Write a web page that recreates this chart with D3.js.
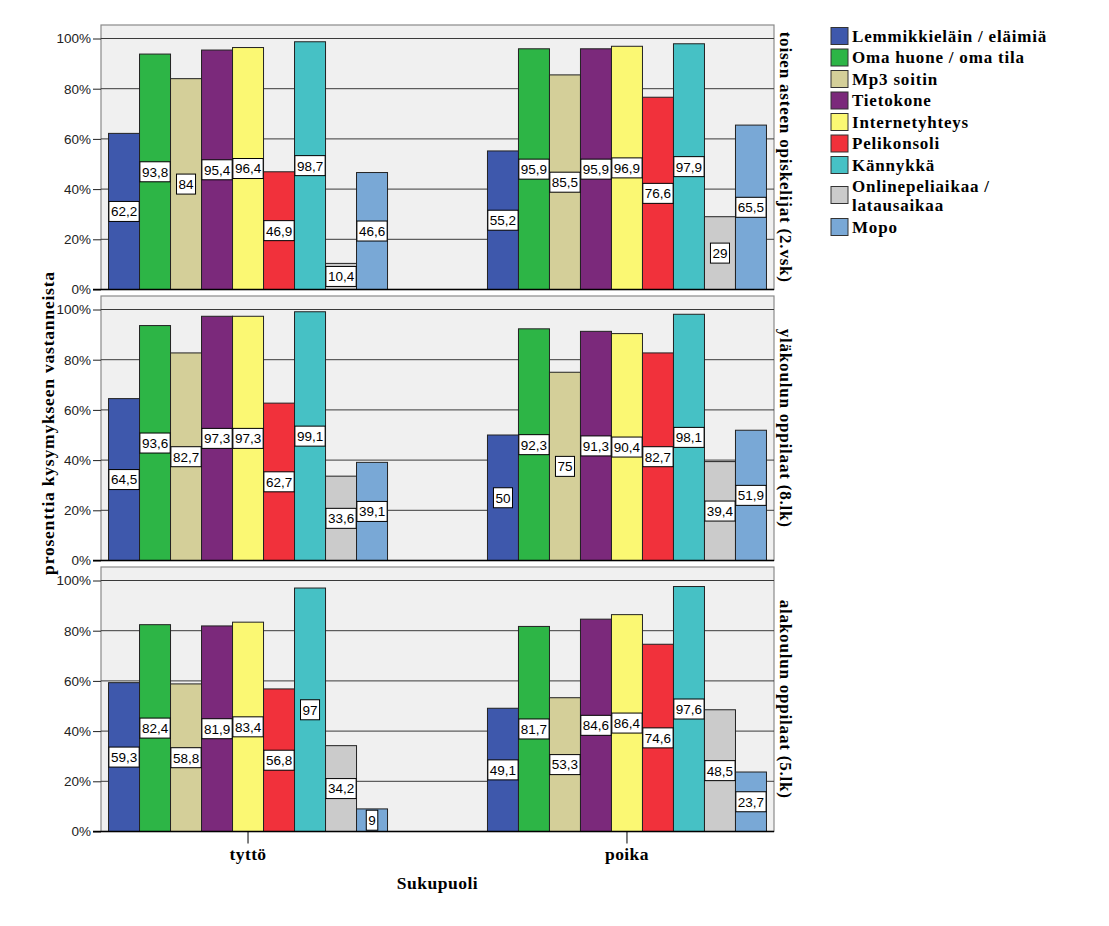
<!DOCTYPE html>
<html>
<head>
<meta charset="utf-8">
<script src="https://cdn.jsdelivr.net/npm/d3@7/dist/d3.min.js"></script>
<style>
  body { margin: 0; background: #fff; }
  .tick text { font-family: "Liberation Sans", Arial, sans-serif; }
</style>
</head>
<body>
<div id="chart"></div>
<script>
  'use strict';

  // categories
  var genders = ["tyttö", "poika"];
  var groups = ["toisen asteen opiskelijat (2.vsk)", "yläkoulun oppilaat (8.lk)", "alakoulun oppilaat (5.lk)"];
  var items = ["Lemmikkieläin / eläimiä", "Oma huone / oma tila", "Mp3 soitin", "Tietokone",
               "Internetyhteys", "Pelikonsoli", "Kännykkä", "Onlinepeliaikaa / latausaikaa", "Mopo"];
  var colors = ["#3e58ac", "#2db546", "#d4cf99", "#7b297b", "#fbf873", "#f1313b", "#46c1c5", "#cbcbcb", "#79a8d6"];
  var yTicks = [0, 20, 40, 60, 80, 100];

  // values per group, [tyttö, poika]
  var toinenAste = [[62.2, 93.8, 84, 95.4, 96.4, 46.9, 98.7, 10.4, 46.6],
                    [55.2, 95.9, 85.5, 95.9, 96.9, 76.6, 97.9, 29, 65.5]];
  var ylakoulu   = [[64.5, 93.6, 82.7, 97.3, 97.3, 62.7, 99.1, 33.6, 39.1],
                    [50, 92.3, 75, 91.3, 90.4, 82.7, 98.1, 39.4, 51.9]];
  var alakoulu   = [[59.3, 82.4, 58.8, 81.9, 83.4, 56.8, 97, 34.2, 9],
                    [49.1, 81.7, 53.3, 84.6, 86.4, 74.6, 97.6, 48.5, 23.7]];
  var panelValues = [toinenAste, ylakoulu, alakoulu];

  var W = 1109, H = 926;
  var left = 101, right = 774;
  var panelTop = 25, panelPitch = 271, yTop = 38.5, yBottom = 289.5;
  var serif = '"Liberation Serif", "Times New Roman", serif';
  var sans = '"Liberation Sans", Arial, sans-serif';

  var svg = d3.select("#chart").append("svg")
      .attr("width", W).attr("height", H);

  var x0 = d3.scalePoint().domain(genders).range([left, right]).padding(0.388);
  var x1 = d3.scaleBand().domain(items).range([-139.5, 139.5]);

  function fmt(v) { return String(v).replace(".", ","); }

  panelValues.forEach(function (vals, p) {
    var off = p * panelPitch;
    var y = d3.scaleLinear().domain([0, 100]).range([yBottom + off, yTop + off]);
    var g = svg.append("g");

    // panel background
    g.append("rect")
      .attr("x", left).attr("y", panelTop + off)
      .attr("width", right - left).attr("height", yBottom - panelTop)
      .attr("fill", "#f0f0f0").attr("stroke", "#8a8a8a").attr("stroke-width", 1.2);

    // gridlines
    g.selectAll("line.grid").data(yTicks.slice(1)).enter().append("line")
      .attr("x1", left).attr("x2", right)
      .attr("y1", function (d) { return y(d); }).attr("y2", function (d) { return y(d); })
      .attr("stroke", "#3a3a3a").attr("stroke-width", 1);

    // y axis
    var axis = d3.axisLeft(y).tickValues(yTicks).tickSize(8).tickPadding(2)
      .tickFormat(function (d) { return d + "%"; });
    var ag = g.append("g").attr("transform", "translate(" + left + ",0)").call(axis);
    ag.select(".domain").remove();
    ag.selectAll(".tick line").attr("stroke", "#222");
    ag.selectAll(".tick text").attr("font-size", 13.5).attr("fill", "#222");

    // bars
    genders.forEach(function (gd, gi) {
      var cx = x0(gd);
      var bg = g.append("g").attr("transform", "translate(" + cx + ",0)");
      bg.selectAll("rect").data(vals[gi]).enter().append("rect")
        .attr("x", function (d, i) { return x1(items[i]); })
        .attr("width", x1.bandwidth())
        .attr("y", function (d) { return y(d); })
        .attr("height", function (d) { return y(0) - y(d); })
        .attr("fill", function (d, i) { return colors[i]; })
        .attr("stroke", "#222").attr("stroke-width", 1);

      // value labels
      var lg = bg.selectAll("g.lab").data(vals[gi]).enter().append("g")
        .attr("transform", function (d, i) {
          return "translate(" + (x1(items[i]) + x1.bandwidth() / 2) + "," + y(d / 2) + ")";
        });
      lg.each(function (d) {
        var el = d3.select(this);
        var t = el.append("text").text(fmt(d))
          .attr("text-anchor", "middle").attr("dy", "0.36em")
          .attr("font-family", sans).attr("font-size", 13.5).attr("fill", "#000");
        var w = t.node().getComputedTextLength();
        el.insert("rect", "text")
          .attr("x", -w / 2 - 2).attr("y", -10)
          .attr("width", w + 4).attr("height", 20)
          .attr("fill", "#fff").attr("stroke", "#000").attr("stroke-width", 1);
      });
    });

    // baseline
    g.append("line").attr("x1", left - 8).attr("x2", right)
      .attr("y1", y(0)).attr("y2", y(0)).attr("stroke", "#000").attr("stroke-width", 1.5);

    // strip label
    g.append("text")
      .attr("transform", "translate(" + 786 + "," + ((panelTop + yBottom) / 2 + off) + ") rotate(90)")
      .attr("text-anchor", "middle").attr("dy", "0.35em")
      .attr("font-family", serif).attr("font-weight", "bold").attr("font-size", 17)
      .attr("letter-spacing", 0.8)
      .text(groups[p]);
  });

  // x axis
  var xb = yBottom + 2 * panelPitch;
  var xg = svg.append("g");
  xg.selectAll("line").data(genders).enter().append("line")
    .attr("x1", function (d) { return x0(d); }).attr("x2", function (d) { return x0(d); })
    .attr("y1", xb).attr("y2", xb + 12).attr("stroke", "#000");
  xg.selectAll("text").data(genders).enter().append("text")
    .attr("x", function (d) { return x0(d); }).attr("y", xb + 28)
    .attr("text-anchor", "middle")
    .attr("font-family", serif).attr("font-weight", "bold").attr("font-size", 17.5)
    .attr("letter-spacing", 0.4)
    .text(function (d) { return d; });

  svg.append("text")
    .attr("x", (left + right) / 2).attr("y", xb + 57)
    .attr("text-anchor", "middle")
    .attr("font-family", serif).attr("font-weight", "bold").attr("font-size", 17.5)
    .attr("letter-spacing", 0.5)
    .text("Sukupuoli");

  svg.append("text")
    .attr("transform", "translate(54,423) rotate(-90)")
    .attr("text-anchor", "middle")
    .attr("font-family", serif).attr("font-weight", "bold").attr("font-size", 17.5)
    .attr("letter-spacing", 0.8)
    .text("prosenttia kysymykseen vastanneista");

  // legend
  var legY = [36, 57.5, 79, 100.5, 122, 143.5, 165, 195, 227];
  var leg = svg.append("g");
  items.forEach(function (name, i) {
    leg.append("rect")
      .attr("x", 831).attr("y", legY[i] - 8.5).attr("width", 17).attr("height", 17)
      .attr("fill", colors[i]).attr("stroke", "#333").attr("stroke-width", 1);
    var parts = name === "Onlinepeliaikaa / latausaikaa" ? ["Onlinepeliaikaa /", "latausaikaa"] : [name];
    var t = leg.append("text")
      .attr("font-family", serif).attr("font-weight", "bold").attr("font-size", 17)
      .attr("letter-spacing", 0.8);
    parts.forEach(function (s, k) {
      t.append("tspan").attr("x", 852)
        .attr("y", legY[i] + (parts.length === 2 ? (k === 0 ? -8.5 : 10.5) : 0))
        .attr("dy", "0.35em").text(s);
    });
  });
</script>
</body>
</html>
